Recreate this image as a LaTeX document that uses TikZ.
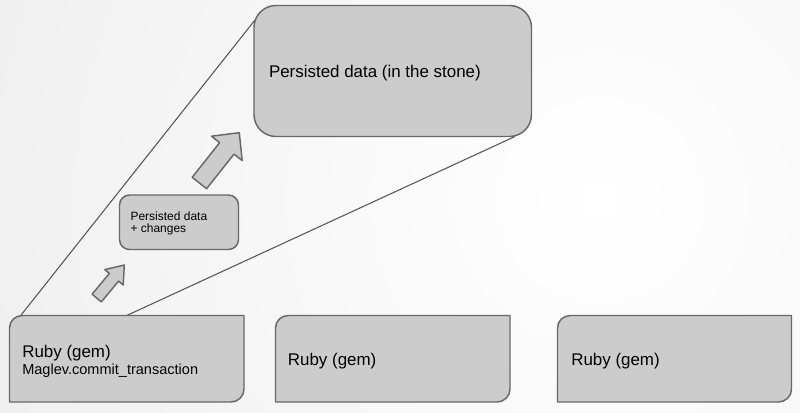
\documentclass[tikz,border=0pt]{standalone}
\usepackage{fontspec}
\setmainfont{Liberation Sans}

\definecolor{boxfill}{HTML}{CCCCCC}
\definecolor{boxline}{HTML}{686868}
\definecolor{lineclr}{HTML}{575757}
\definecolor{bgedge}{HTML}{E0E0E0}

\tikzset{every picture/.style={line width=0.75pt}}
\tikzset{
	boxshape/.style={draw=boxline, fill=boxfill, line width=1.1pt, line join=round},
	zoomline/.style={draw=lineclr, line width=0.8pt},
	label/.style={anchor=base west, inner sep=0pt, text=black},
	bigfont/.style={font=\fontsize{12.7}{15}\selectfont},
	midfont/.style={font=\fontsize{10.9}{13}\selectfont},
	smallfont/.style={font=\fontsize{9}{10}\selectfont}
}

\begin{document}
\begin{tikzpicture}[x=0.75pt,y=0.75pt,yscale=-1,xscale=1]
	\useasboundingbox (0,0) rectangle (800,412);
	
	%Background gradient
	\begin{scope}
		\clip (0,0) rectangle (800,412);
		\shade [inner color=white, outer color=bgedge] (600,200) circle (1300);
	\end{scope}
	
	%Coordinates for the zoom lines
	\coordinate (gemcorner) at (20.7,315.5);
	\coordinate (gemtop) at (126.7,315.5);
	\coordinate (storeleft) at (255,20);
	\coordinate (storecorner) at (515,136.5);
	
	%Straight Lines
	\draw [zoomline]  (gemcorner) -- (storeleft) ;
	%Straight Lines
	\draw [zoomline]  (gemtop) -- (storecorner) ;
	
	%Rounded Rect: stone
	\draw [boxshape, rounded corners=16.5pt]  (254,5.5) rectangle (531.5,136.5) ;
	%Rounded Rect: changes
	\draw [boxshape, rounded corners=7.5pt]  (119.5,195) rectangle (238.5,249.5) ;
	
	%Shape: gem box 1
	\draw [boxshape]  (9.5,402) -- (9.5,328) .. controls (9.5,320.8) and (15.3,315.5) .. (22.5,315.5) -- (244,315.5) -- (244,389) .. controls (244,396.2) and (238.2,402) .. (231,402) -- cycle ;
	%Shape: gem box 2
	\draw [boxshape]  (275.5,402) -- (275.5,328) .. controls (275.5,320.8) and (281.3,315.5) .. (288.5,315.5) -- (510,315.5) -- (510,389) .. controls (510,396.2) and (504.2,402) .. (497,402) -- cycle ;
	%Shape: gem box 3
	\draw [boxshape]  (557.5,402) -- (557.5,328) .. controls (557.5,320.8) and (563.3,315.5) .. (570.5,315.5) -- (791.5,315.5) -- (791.5,389) .. controls (791.5,396.2) and (785.7,402) .. (778.5,402) -- cycle ;
	
	%Shape: small block arrow
	\draw [boxshape]  (92.1,294.2) -- (109.4,273.4) -- (104.8,269.6) -- (124.3,265) -- (123.2,285) -- (118.6,281.1) -- (101.3,301.9) -- cycle ;
	%Shape: big block arrow
	\draw [boxshape]  (192.2,177.3) -- (219.6,142.7) -- (211.5,136.2) -- (239.3,132.7) -- (242.2,160.6) -- (234,154.1) -- (206.6,188.7) -- cycle ;
	
	% Text Node
	\node [label, bigfont] (storetext) at (268.5,77.3) {Persisted data (in the stone)};
	% Text Node
	\node [label, smallfont] (changestextA) at (130,220) {Persisted data};
	% Text Node
	\node [label, smallfont] (changestextB) at (130,232.7) {+ changes};
	% Text Node
	\node [label, bigfont] (gemtextA) at (21.8,357.3) {Ruby (gem)};
	% Text Node
	\node [label, midfont] (committext) at (21.8,374) {Maglev.commit\_transaction};
	% Text Node
	\node [label, bigfont] (gemtextB) at (287.4,365.7) {Ruby (gem)};
	% Text Node
	\node [label, bigfont] (gemtextC) at (570.8,365.7) {Ruby (gem)};
	
\end{tikzpicture}
\end{document}
